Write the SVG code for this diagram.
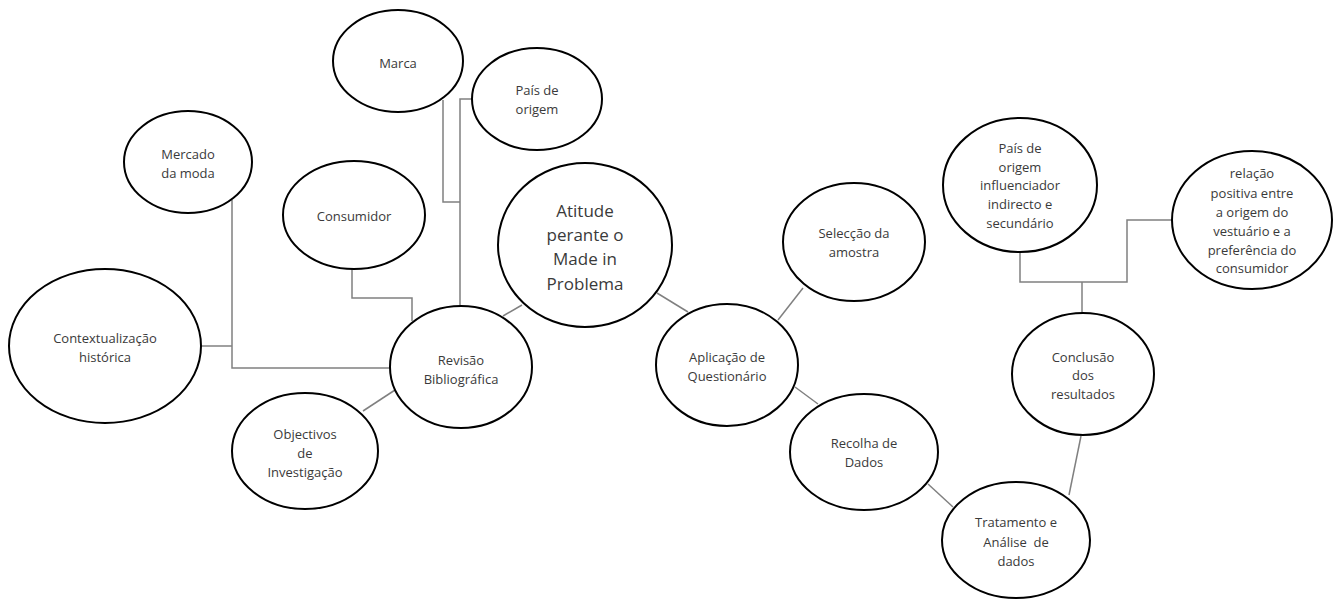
<svg xmlns="http://www.w3.org/2000/svg" width="1339" height="599" viewBox="0 0 1339 599">
<style>
.n ellipse{fill:#fff;stroke:#000;stroke-width:2}
.n text{font-family:"Open Sans","Liberation Sans",sans-serif;font-size:13px;fill:#3a3a3a;text-anchor:middle;dominant-baseline:central}
#atitude text{font-size:17px}
.c{fill:none;stroke:#808080;stroke-width:1.5}
</style>
<rect width="1339" height="599" fill="#fff"/>
<g id="connectors">
<polyline class="c" points="443,100 443,202 460,202"/>
<polyline class="c" points="472,99 460,99 460,308"/>
<polyline class="c" points="232,200 232,368 391,368"/>
<line class="c" x1="202" y1="346" x2="232" y2="346"/>
<polyline class="c" points="352,268 352,298 412,298 412,321"/>
<line class="c" x1="363" y1="411" x2="395" y2="390"/>
<line class="c" x1="503" y1="316" x2="522" y2="305"/>
<line class="c" x1="657" y1="293" x2="688" y2="312"/>
<line class="c" x1="778" y1="320" x2="803" y2="288"/>
<line class="c" x1="795" y1="387" x2="818" y2="404"/>
<line class="c" x1="928" y1="484" x2="953" y2="507"/>
<line class="c" x1="1069" y1="495" x2="1081" y2="436"/>
<polyline class="c" points="1020,252 1020,282 1127,282 1127,220 1172,220"/>
<line class="c" x1="1082" y1="282" x2="1082" y2="313"/>
</g>
<g id="marca" class="n"><ellipse cx="398" cy="61" rx="65" ry="51"/><text x="398" y="63">Marca</text></g>
<g id="pais-origem" class="n"><ellipse cx="537" cy="99" rx="65" ry="51"/><text x="537" y="90">País de</text><text x="537" y="109">origem</text></g>
<g id="mercado" class="n"><ellipse cx="188" cy="162" rx="64" ry="51"/><text x="188" y="154">Mercado</text><text x="188" y="173">da moda</text></g>
<g id="consumidor" class="n"><ellipse cx="354" cy="215" rx="71" ry="54"/><text x="354" y="216">Consumidor</text></g>
<g id="atitude" class="n"><ellipse cx="585" cy="245" rx="87" ry="82"/><text x="585" y="210">Atitude</text><text x="585" y="234">perante o</text><text x="585" y="258">Made in</text><text x="585" y="283">Problema</text></g>
<g id="contextualizacao" class="n"><ellipse cx="105" cy="346" rx="96" ry="77"/><text x="105" y="338">Contextualização</text><text x="105" y="357">histórica</text></g>
<g id="revisao" class="n"><ellipse cx="461" cy="367" rx="71" ry="61"/><text x="461" y="360">Revisão</text><text x="461" y="379">Bibliográfica</text></g>
<g id="objectivos" class="n"><ellipse cx="305" cy="451" rx="73" ry="58"/><text x="305" y="434">Objectivos</text><text x="305" y="453">de</text><text x="305" y="472">Investigação</text></g>
<g id="seleccao" class="n"><ellipse cx="854" cy="242" rx="71" ry="59"/><text x="854" y="233">Selecção da</text><text x="854" y="252">amostra</text></g>
<g id="aplicacao" class="n"><ellipse cx="727" cy="365" rx="71" ry="61"/><text x="727" y="357">Aplicação de</text><text x="727" y="376">Questionário</text></g>
<g id="recolha" class="n"><ellipse cx="864" cy="452" rx="74" ry="58"/><text x="864" y="443">Recolha de</text><text x="864" y="462">Dados</text></g>
<g id="tratamento" class="n"><ellipse cx="1016" cy="540" rx="74" ry="58"/><text x="1016" y="522">Tratamento e</text><text x="1016" y="542" xml:space="preserve">Análise  de</text><text x="1016" y="561">dados</text></g>
<g id="conclusao" class="n"><ellipse cx="1083" cy="374" rx="71" ry="61"/><text x="1083" y="357">Conclusão</text><text x="1083" y="375">dos</text><text x="1083" y="394">resultados</text></g>
<g id="pais-influenciador" class="n"><ellipse cx="1020" cy="185" rx="77" ry="67"/><text x="1020" y="148">País de</text><text x="1020" y="167">origem</text><text x="1020" y="185">influenciador</text><text x="1020" y="204">indirecto e</text><text x="1020" y="223">secundário</text></g>
<g id="relacao" class="n"><ellipse cx="1252" cy="220" rx="80" ry="69"/><text x="1252" y="173">relação</text><text x="1252" y="193">positiva entre</text><text x="1252" y="212">a origem do</text><text x="1252" y="231">vestuário e a</text><text x="1252" y="250">preferência do</text><text x="1252" y="268">consumidor</text></g>
</svg>
